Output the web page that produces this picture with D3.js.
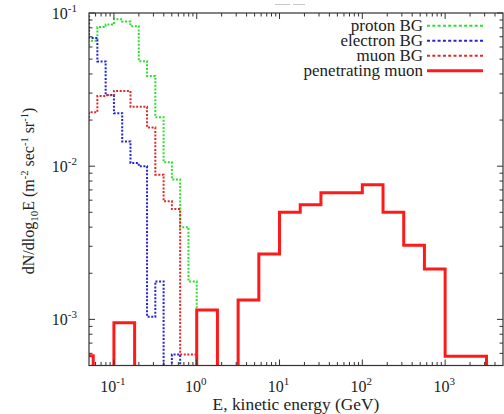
<!DOCTYPE html>
<html>
<head>
<meta charset="utf-8">
<script src="https://cdn.jsdelivr.net/npm/d3@7"></script>
<style>
body { margin: 0; background: #fff; }
</style>
</head>
<body>
<svg class="chart"></svg>
<script>
// background histograms: left bin edges in log10(E/GeV), 0.1 wide
var bgLogE = [-1.4, -1.3, -1.2, -1.1, -1.0, -0.9, -0.8, -0.7, -0.6, -0.5, -0.4, -0.3, -0.2, -0.1, 0.0];
var protonBG   = [0.062, 0.066, 0.081, 0.084, 0.091, 0.088, 0.082, 0.0485, 0.0388, 0.0209, 0.0106, 0.0082, 0.0040, 0.00177, 0];
var electronBG = [0.095, 0.0687, 0.0483, 0.0292, 0.0222, 0.0145, 0.0105, 0.0100, 0.00104, 0.00177, 0, 0.00059, 0, 0, 0];
var muonBG     = [0.021, 0.0225, 0.0287, 0.029, 0.031, 0.031, 0.0244, 0.0244, 0.0179, 0.0088, 0.0059, 0.00525, 0.00059, 0.00059, 0];

// penetrating muon: left bin edges in log10(E/GeV), 0.25 wide
var muLogE = [-1.5, -1.25, -1.0, -0.75, -0.5, -0.25, 0.0, 0.25, 0.5, 0.75, 1.0, 1.25, 1.5, 1.75, 2.0, 2.25, 2.5, 2.75, 3.0, 3.25, 3.5];
var penetratingMuon = [0.00058, 0, 0.00095, 0, 0, 0, 0.00115, 0, 0.00134, 0.00267, 0.0050, 0.0056, 0.0067, 0.0067, 0.00756, 0.0050, 0.00305, 0.00213, 0.000575, 0.000575, 0];

var xTicks = [0.1, 1, 10, 100, 1000];
var yTicks = [0.1, 0.01, 0.001];
var legendNames = ["proton BG", "electron BG", "muon BG", "penetrating muon"];
var seriesColors = ["#2ee02e", "#2323d8", "#e02a2a", "#ff1a1a"];

var width = 504;
var height = 414;
var margin = {top: 13, right: 1, bottom: 48.5, left: 89};
var w = width - margin.left - margin.right;
var h = height - margin.top - margin.bottom;
var serif = "'Liberation Serif', Tinos, 'Times New Roman', Times, 'DejaVu Serif', serif";

var svg = d3.select(".chart")
    .attr("width", width)
    .attr("height", height)
    .attr("font-family", serif)
    .style("font-family", serif);

svg.append("rect").attr("width", width).attr("height", height).attr("fill", "#fff");

// clipped title remnant at the very top
svg.append("path")
    .attr("d", "M275,4.5H290M293,4.5H305")
    .attr("stroke", "#c8c8c8")
    .attr("stroke-width", 1.2);

var chart = svg.append("g")
    .attr("transform", "translate(" + margin.left + "," + margin.top + ")");

var x = d3.scaleLog().domain([0.05, 5000]).range([0, w]);
var y = d3.scaleLog().domain([5e-4, 0.1]).range([h, 0]);

chart.append("clipPath").attr("id", "plotclip")
  .append("rect").attr("width", w).attr("height", h);

function yv(v) { return v > 0 ? y(v) : h + 10; }

var step = d3.line()
    .x(function(d) { return x(Math.pow(10, d[0])); })
    .y(function(d) { return yv(d[1]); })
    .curve(d3.curveStepAfter);

function pairs(edges, vals) {
    return edges.map(function(e, i) { return [e, vals[i]]; });
}

var plot = chart.append("g").attr("clip-path", "url(#plotclip)");

var bgSeries = [protonBG, electronBG, muonBG];
bgSeries.forEach(function(s, i) {
    plot.append("path")
        .attr("d", step(pairs(bgLogE, s)))
        .attr("fill", "none")
        .attr("stroke", seriesColors[i])
        .attr("stroke-width", 2)
        .attr("stroke-dasharray", "2,1.6");
});

plot.append("path")
    .attr("d", step(pairs(muLogE, penetratingMuon)))
    .attr("fill", "none")
    .attr("stroke", seriesColors[3])
    .attr("stroke-width", 3)
    .attr("stroke-linejoin", "miter");

// ticks (mirrored on all four sides, pointing inward)
var ticksG = chart.append("g").attr("stroke", "#333").attr("stroke-width", 1);
var xMinor = [], yMinor = [];
for (var dec = -2; dec <= 3; dec++) {
    for (var k = 2; k <= 9; k++) {
        var v = k * Math.pow(10, dec);
        if (v > 0.05 && v < 5000) xMinor.push(v);
    }
}
for (var dec = -4; dec <= -2; dec++) {
    for (var k = 2; k <= 9; k++) {
        var v = k * Math.pow(10, dec);
        if (v > 5e-4 && v < 0.1) yMinor.push(v);
    }
}
function xTick(v, len) {
    ticksG.append("line").attr("x1", x(v)).attr("x2", x(v)).attr("y1", h).attr("y2", h - len);
    ticksG.append("line").attr("x1", x(v)).attr("x2", x(v)).attr("y1", 0).attr("y2", len);
}
function yTick(v, len) {
    ticksG.append("line").attr("y1", y(v)).attr("y2", y(v)).attr("x1", 0).attr("x2", len);
    ticksG.append("line").attr("y1", y(v)).attr("y2", y(v)).attr("x1", w).attr("x2", w - len);
}
xTicks.forEach(function(v) { xTick(v, 6); });
xMinor.forEach(function(v) { xTick(v, 3.5); });
yTicks.forEach(function(v) { yTick(v, 6); });
yMinor.forEach(function(v) { yTick(v, 3.5); });

// frame
chart.append("rect")
    .attr("width", w).attr("height", h)
    .attr("fill", "none")
    .attr("stroke", "#333")
    .attr("stroke-width", 1.2);

// tick labels
function expLabel(sel, v) {
    var e = Math.round(Math.log10(v));
    sel.append("tspan").text("10");
    sel.append("tspan").attr("dy", -7).attr("font-size", 11).text(String(e));
}
xTicks.forEach(function(v) {
    var t = chart.append("text")
        .attr("x", x(v) - 1)
        .attr("y", h + 26)
        .attr("text-anchor", "middle")
        .attr("font-size", 16)
        .attr("fill", "#222");
    expLabel(t, v);
});
yTicks.forEach(function(v) {
    var t = chart.append("text")
        .attr("x", -12)
        .attr("y", y(v) + 6)
        .attr("text-anchor", "end")
        .attr("font-size", 16)
        .attr("fill", "#222");
    expLabel(t, v);
});

// axis titles
svg.append("text")
    .attr("x", 296)
    .attr("y", 410)
    .attr("text-anchor", "middle")
    .attr("font-size", 17.4)
    .attr("fill", "#222")
    .text("E, kinetic energy (GeV)");

var yt = svg.append("text")
    .attr("transform", "translate(34,191) rotate(-90)")
    .attr("text-anchor", "middle")
    .attr("font-size", 16)
    .attr("fill", "#222");
yt.append("tspan").text("dN/dlog");
yt.append("tspan").attr("dy", 4).attr("font-size", 11).text("10");
yt.append("tspan").attr("dy", -4).text("E (m");
yt.append("tspan").attr("dy", -6).attr("font-size", 10.5).text("-2");
yt.append("tspan").attr("dy", 6).text(" sec");
yt.append("tspan").attr("dy", -6).attr("font-size", 10.5).text("-1");
yt.append("tspan").attr("dy", 6).text(" sr");
yt.append("tspan").attr("dy", -6).attr("font-size", 10.5).text("-1");
yt.append("tspan").attr("dy", 6).text(")");

// legend
var legend = svg.append("g");
legendNames.forEach(function(name, i) {
    var ly = 25.7 + i * 15;
    legend.append("text")
        .attr("x", 423)
        .attr("y", ly + 5)
        .attr("text-anchor", "end")
        .attr("font-size", 17)
        .attr("fill", "#222")
        .text(name);
    legend.append("line")
        .attr("x1", 427).attr("x2", 483)
        .attr("y1", ly).attr("y2", ly)
        .attr("stroke", seriesColors[i])
        .attr("stroke-width", i < 3 ? 2 : 3)
        .attr("stroke-dasharray", i < 3 ? "3,2.3" : null);
});
</script>
</body>
</html>
